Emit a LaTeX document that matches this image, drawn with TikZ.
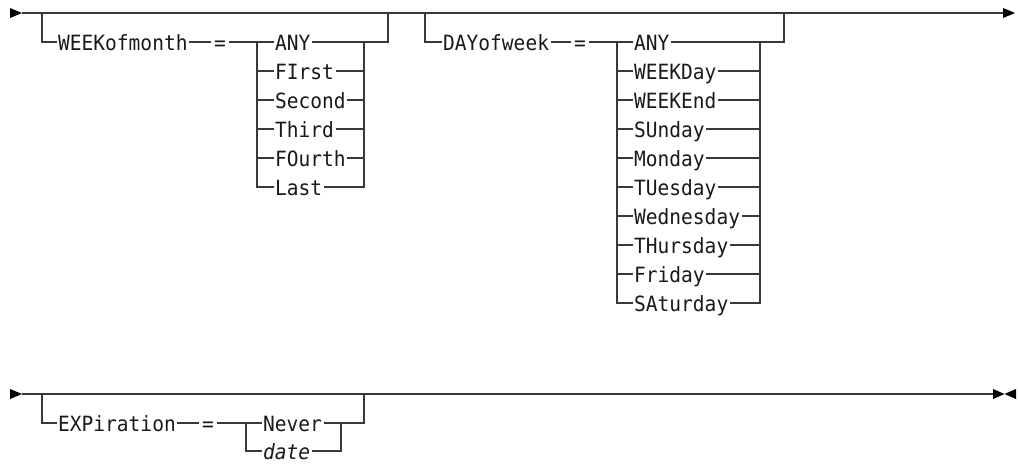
\documentclass[tikz,border=0pt]{standalone}
\usepackage{fontspec}
\setmonofont[FakeStretch=0.93]{DejaVu Sans Mono}
\begin{document}
\begin{tikzpicture}[x=1pt,y=-1pt,
  rail/.style={draw=black!78,line width=1.3pt},
  kw/.style={font=\ttfamily\fontsize{21}{22}\selectfont,inner sep=0pt,anchor=base west,text=black!90},
  eq/.style={font=\ttfamily\fontsize{21}{22}\selectfont,inner sep=0pt,anchor=base,text=black!90},
  tip/.style={fill=black,draw=none}]
\useasboundingbox (0,0) rectangle (1018,464);
% ---------- diagram 1 ----------
\coordinate (s1) at (22,13);
\coordinate (e1) at (1003,13);
\fill[tip] (10,8) -- (22,13) -- (10,18) -- cycle;
\fill[tip] (1003,8) -- (1015,13) -- (1003,18) -- cycle;
\draw[rail] (s1) -- (e1);
% WEEKofmonth group
\node[kw] (wk) at (58,50) {WEEKofmonth};
\node[eq] (wkeq) at (220,50) {=};
\node[kw] (wany) at (275,50) {ANY};
\node[kw] (wfi) at (275,79) {FIrst};
\node[kw] (wse) at (275,108) {Second};
\node[kw] (wth) at (275,137) {Third};
\node[kw] (wfo) at (275,166) {FOurth};
\node[kw] (wla) at (275,195) {Last};
\draw[rail] (42,13) |- ([xshift=-1.5pt]wk.west |- 0,42);
\draw[rail] ([xshift=1.5pt]wk.east |- 0,42) -- ([xshift=-3pt]wkeq.west |- 0,42);
\draw[rail] ([xshift=3pt]wkeq.east |- 0,42) -- ([xshift=-1.5pt]wany.west |- 0,42);
\draw[rail] ([xshift=1.5pt]wany.east |- 0,42) -- (388,42) -- (388,13);
\draw[rail] (257,42) |- ([xshift=-1.5pt]wla.west |- 0,187);
\draw[rail] (364,42) |- ([xshift=1.5pt]wla.east |- 0,187);
\foreach \n/\yy in {wfi/71,wse/100,wth/129,wfo/158}{
  \draw[rail] (257,\yy) -- ([xshift=-1.5pt]\n.west |- 0,\yy);
  \draw[rail] ([xshift=1.5pt]\n.east |- 0,\yy) -- (364,\yy);
}
% DAYofweek group
\node[kw] (dw) at (443,50) {DAYofweek};
\node[eq] (dweq) at (580,50) {=};
\node[kw] (dany) at (634,50) {ANY};
\node[kw] (dwd) at (634,79) {WEEKDay};
\node[kw] (dwe) at (634,108) {WEEKEnd};
\node[kw] (dsu) at (634,137) {SUnday};
\node[kw] (dmo) at (634,166) {Monday};
\node[kw] (dtu) at (634,195) {TUesday};
\node[kw] (dwn) at (634,224) {Wednesday};
\node[kw] (dth) at (634,253) {THursday};
\node[kw] (dfr) at (634,282) {Friday};
\node[kw] (dsa) at (634,311) {SAturday};
\draw[rail] (425,13) |- ([xshift=-1.5pt]dw.west |- 0,42);
\draw[rail] ([xshift=1.5pt]dw.east |- 0,42) -- ([xshift=-3pt]dweq.west |- 0,42);
\draw[rail] ([xshift=3pt]dweq.east |- 0,42) -- ([xshift=-1.5pt]dany.west |- 0,42);
\draw[rail] ([xshift=1.5pt]dany.east |- 0,42) -- (784,42) -- (784,13);
\draw[rail] (617,42) |- ([xshift=-1.5pt]dsa.west |- 0,303);
\draw[rail] (760,42) |- ([xshift=1.5pt]dsa.east |- 0,303);
\foreach \n/\yy in {dwd/71,dwe/100,dsu/129,dmo/158,dtu/187,dwn/216,dth/245,dfr/274}{
  \draw[rail] (617,\yy) -- ([xshift=-1.5pt]\n.west |- 0,\yy);
  \draw[rail] ([xshift=1.5pt]\n.east |- 0,\yy) -- (760,\yy);
}
% ---------- diagram 2 ----------
\coordinate (s2) at (22,394);
\coordinate (e2) at (993,394);
\fill[tip] (10,389) -- (22,394) -- (10,399) -- cycle;
\fill[tip] (993,389) -- (1004.5,394) -- (993,399) -- cycle;
\fill[tip] (1016,389) -- (1004.5,394) -- (1016,399) -- cycle;
\draw[rail] (s2) -- (e2);
\node[kw] (ex) at (58,431) {EXPiration};
\node[eq] (exeq) at (208,431) {=};
\node[kw] (nv) at (263,431) {Never};
\node[kw,font=\ttfamily\itshape\fontsize{21}{22}\selectfont] (dt) at (263,459) {date};
\draw[rail] (42,394) |- ([xshift=-1.5pt]ex.west |- 0,423);
\draw[rail] ([xshift=1.5pt]ex.east |- 0,423) -- ([xshift=-3pt]exeq.west |- 0,423);
\draw[rail] ([xshift=3pt]exeq.east |- 0,423) -- ([xshift=-1.5pt]nv.west |- 0,423);
\draw[rail] ([xshift=1.5pt]nv.east |- 0,423) -- (364,423) -- (364,394);
\draw[rail] (246,423) |- ([xshift=-1.5pt]dt.west |- 0,451);
\draw[rail] (341,423) |- ([xshift=1.5pt]dt.east |- 0,451);
\end{tikzpicture}
\end{document}
